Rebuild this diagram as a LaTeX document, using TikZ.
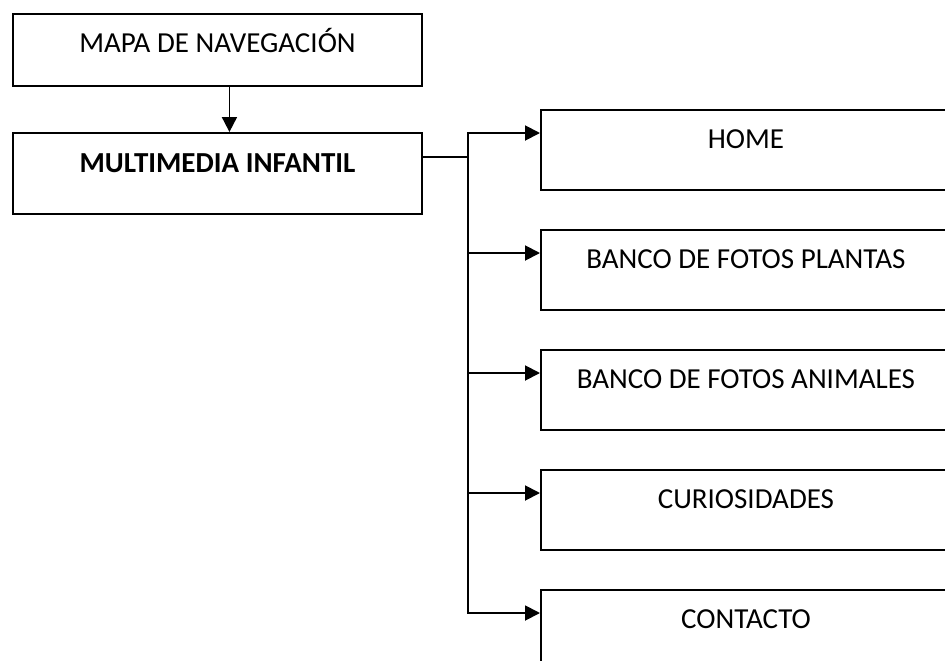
\documentclass[tikz,border=0pt]{standalone}
\usepackage{fontspec}
\setmainfont{Carlito}
\usetikzlibrary{arrows.meta,positioning}

\begin{document}
\begin{tikzpicture}[x=1pt,y=-1pt]
    \tikzstyle{block} = [rectangle, draw, line width=1.9pt, inner sep=0pt,
               anchor=north west, minimum width=409pt,
               font=\fontsize{29}{32}\selectfont]
    \tikzstyle{item} = [block, minimum width=460pt,
               minimum height=80pt, text height=38pt, text depth=41pt]
    \tikzstyle{line} = [draw, line width=1.9pt, -{Triangle[length=15pt,width=15pt]}]

    \useasboundingbox (0,0) rectangle (945,661);
    \clip (0,0) rectangle (945,661);

    % left column
    \node [block, text height=39pt, text depth=33pt] (mapa) at (12,13)
      {MAPA DE NAVEGACIÓN};
    \node [block, text height=40pt, text depth=41pt] (multi) at (12,132)
      {\bfseries MULTIMEDIA INFANTIL};

    % right column
    \node [item] (home) at (540,109) {\makebox[460pt][l]{\makebox[410pt]{HOME}}};
    \node [item] (plantas) at (540,229) {\makebox[460pt][l]{\makebox[410pt]{BANCO DE FOTOS PLANTAS}}};
    \node [item] (animales) at (540,349) {\makebox[460pt][l]{\makebox[410pt]{BANCO DE FOTOS ANIMALES}}};
    \node [item] (curios) at (540,469) {\makebox[460pt][l]{\makebox[410pt]{CURIOSIDADES}}};
    \node [item] (contacto) at (540,589) {\makebox[460pt][l]{\makebox[410pt]{CONTACTO}}};

    \coordinate (bus) at (468,157);

    \draw [line] ([xshift=12pt]mapa.south) -- ([xshift=12pt]multi.north);
    \draw [line width=1.9pt] (multi.east |- bus) -- (bus);

    \foreach \n in {home,plantas,animales,curios,contacto}
      \draw [line] (bus) |- ([yshift=-24pt]\n.north west);

\end{tikzpicture}
\end{document}
